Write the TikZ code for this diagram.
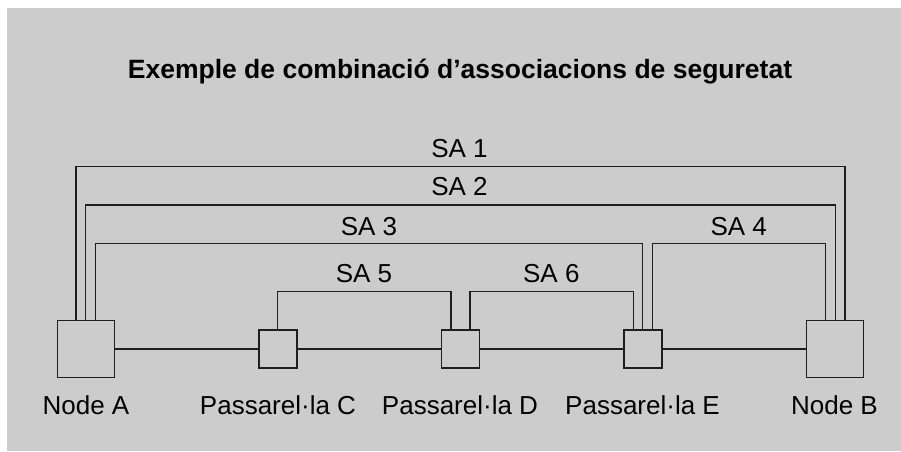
\documentclass[tikz,border=0pt]{standalone}
\usepackage{fontspec}
\setmainfont{Liberation Sans}
\definecolor{bggray}{HTML}{CCCCCC}
\definecolor{ink}{HTML}{1E1E1E}
\begin{document}
\begin{tikzpicture}[x=1pt,y=-1pt,
  bigbox/.style={draw=ink,line width=1.2pt,minimum size=57pt,inner sep=0pt},
  smallbox/.style={draw=ink,line width=1.2pt,minimum size=38pt,inner sep=0pt},
  conn/.style={draw=ink,line width=1.2pt},
  salabel/.style={anchor=base,inner sep=0pt,font=\fontsize{26}{30}\selectfont},
  nlabel/.style={anchor=base,inner sep=0pt,font=\fontsize{26}{30}\selectfont},
  title/.style={anchor=base,inner sep=0pt,font=\fontsize{26.5}{32}\selectfont\bfseries}]
\useasboundingbox (0,0) rectangle (901,451);
\fill[bggray] (7,8) rectangle (901,451);

\node[title] (ttl) at (460,78.3) {Exemple de combinació d’associacions de seguretat};

% boxes
\node[bigbox] (A) at (86,349) {};
\node[smallbox] (C) at (278,349) {};
\node[smallbox] (D) at (460.2,349) {};
\node[smallbox] (E) at (643,349) {};
\node[bigbox] (B) at (835,349) {};

% node labels
\node[nlabel] (lA) at (86,414.3) {Node A};
\node[nlabel] (lC) at (278,414.3) {Passarel·la C};
\node[nlabel] (lD) at (460,414.3) {Passarel·la D};
\node[nlabel] (lE) at (642.5,414.3) {Passarel·la E};
\node[nlabel] (lB) at (834.5,414.3) {Node B};

% chain
\draw[conn] (A.east) -- (C.west);
\draw[conn] (C.east) -- (D.west);
\draw[conn] (D.east) -- (E.west);
\draw[conn] (E.east) -- (B.west);

% level coordinates
\coordinate (L1) at (459.5,166.7);
\coordinate (L2) at (459.5,205);
\coordinate (L3) at (369,243.7);
\coordinate (L4) at (738.7,243.5);
\coordinate (L5) at (364,291.7);
\coordinate (L6) at (551.3,291.7);

% security associations
\draw[conn] ([xshift=-10pt]A.north) |- (L1) -| ([xshift=10pt]B.north);
\draw[conn] ([xshift=-0.5pt]A.north) |- (L2) -| ([xshift=0.3pt]B.north);
\draw[conn] ([xshift=9.3pt]A.north) |- (L3) -| ([xshift=-0.3pt]E.north);
\draw[conn] ([xshift=9.3pt]E.north) |- (L4) -| ([xshift=-9.3pt]B.north);
\draw[conn] ([xshift=-0.3pt]C.north) |- (L5) -| ([xshift=-9.2pt]D.north);
\draw[conn] ([xshift=9.8pt]D.north) |- (L6) -| ([xshift=-9.7pt]E.north);

% SA labels
\node[salabel] (t1) at ([yshift=9pt]L1) {SA 1};
\node[salabel] (t2) at ([yshift=9.3pt]L2) {SA 2};
\node[salabel] (t3) at ([yshift=8.7pt]L3) {SA 3};
\node[salabel] (t4) at ([yshift=8.5pt]L4) {SA 4};
\node[salabel] (t5) at ([yshift=9.4pt]L5) {SA 5};
\node[salabel] (t6) at ([yshift=9.4pt]L6) {SA 6};
\end{tikzpicture}
\end{document}
